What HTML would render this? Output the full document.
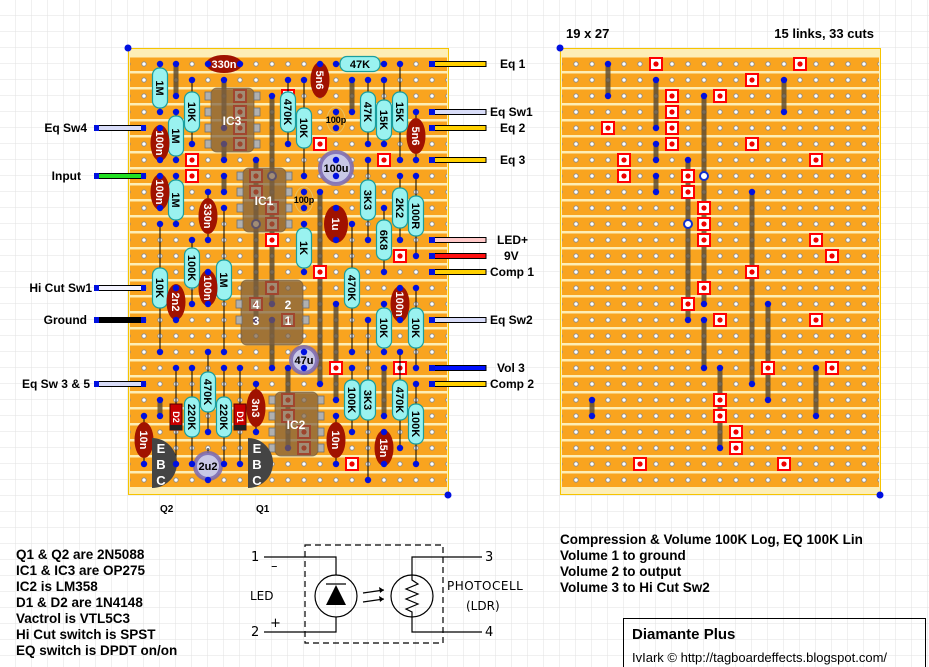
<!DOCTYPE html>
<html><head><meta charset="utf-8"><style>
html,body{margin:0;padding:0;background:#fff;}
svg{display:block;font-family:"Liberation Sans",sans-serif;}
.b{font-weight:bold;}
</style></head><body>
<svg width="929" height="667" viewBox="0 0 929 667" xmlns="http://www.w3.org/2000/svg">
<defs>
<pattern id="grid" width="16" height="16" patternUnits="userSpaceOnUse"><path d="M16 0V16M0 16H16" stroke="#e2e2e2" stroke-width="1" fill="none"/></pattern>
<pattern id="strip" x="0" y="56" width="16" height="16" patternUnits="userSpaceOnUse"><rect x="0" y="1.5" width="16" height="13.5" fill="#f9a41f"/></pattern>
<pattern id="holes" x="136" y="56" width="16" height="16" patternUnits="userSpaceOnUse"><circle cx="8" cy="8" r="2.2" fill="#fff" stroke="#8a8a8a" stroke-width="0.9"/></pattern>
<g id="cut"><rect x="-6" y="-6" width="12" height="12" fill="#fff" stroke="#f00" stroke-width="2"/><circle r="2.6" fill="#e00"/></g>
<g id="ring"><circle r="4" fill="#fff" stroke="#1030d0" stroke-width="2"/></g>
<g id="board">
<rect x="128.5" y="48.5" width="320" height="446" fill="#fdeeb6" stroke="#f6c400"/>
<rect x="130" y="56" width="317" height="432" fill="url(#strip)"/>
<rect x="130" y="56" width="317" height="432" fill="url(#holes)"/>
</g>
<g id="cl">
<g fill="#5a4a32" opacity="0.82">
<rect x="173.5" y="64" width="5" height="32"/>
<rect x="221.5" y="80" width="5" height="48"/>
<rect x="349.5" y="80" width="5" height="32"/>
<rect x="269.5" y="96" width="5" height="208"/>
<rect x="221.5" y="144" width="5" height="16"/>
<rect x="253.5" y="160" width="5" height="160"/>
<rect x="221.5" y="176" width="5" height="16"/>
<rect x="317.5" y="192" width="5" height="192"/>
<rect x="333.5" y="304" width="5" height="96"/>
<rect x="269.5" y="320" width="5" height="48"/>
<rect x="285.5" y="368" width="5" height="80"/>
<rect x="381.5" y="368" width="5" height="48"/>
<rect x="157.5" y="400" width="5" height="16"/>
</g>
<g fill="#0010e0">
<circle cx="176" cy="64" r="3.2"/><circle cx="176" cy="96" r="3.2"/>
<circle cx="224" cy="80" r="3.2"/><circle cx="224" cy="128" r="3.2"/>
<circle cx="352" cy="80" r="3.2"/><circle cx="352" cy="112" r="3.2"/>
<circle cx="272" cy="96" r="3.2"/><circle cx="272" cy="304" r="3.2"/>
<circle cx="224" cy="144" r="3.2"/><circle cx="224" cy="160" r="3.2"/>
<circle cx="256" cy="160" r="3.2"/><circle cx="256" cy="320" r="3.2"/>
<circle cx="224" cy="176" r="3.2"/><circle cx="224" cy="192" r="3.2"/>
<circle cx="320" cy="192" r="3.2"/><circle cx="320" cy="384" r="3.2"/>
<circle cx="336" cy="304" r="3.2"/><circle cx="336" cy="400" r="3.2"/>
<circle cx="272" cy="320" r="3.2"/><circle cx="272" cy="368" r="3.2"/>
<circle cx="288" cy="368" r="3.2"/><circle cx="288" cy="448" r="3.2"/>
<circle cx="384" cy="368" r="3.2"/><circle cx="384" cy="416" r="3.2"/>
<circle cx="160" cy="400" r="3.2"/><circle cx="160" cy="416" r="3.2"/>
</g>
<use href="#ring" x="272" y="176"/><use href="#ring" x="256" y="224"/>
<use href="#cut" x="224" y="64"/><use href="#cut" x="368" y="64"/>
<use href="#cut" x="320" y="80"/>
<use href="#cut" x="240" y="96"/><use href="#cut" x="288" y="96"/>
<use href="#cut" x="240" y="112"/>
<use href="#cut" x="176" y="128"/><use href="#cut" x="240" y="128"/>
<use href="#cut" x="240" y="144"/><use href="#cut" x="320" y="144"/>
<use href="#cut" x="192" y="160"/><use href="#cut" x="384" y="160"/>
<use href="#cut" x="192" y="176"/><use href="#cut" x="256" y="176"/>
<use href="#cut" x="256" y="192"/>
<use href="#cut" x="272" y="208"/>
<use href="#cut" x="272" y="224"/>
<use href="#cut" x="272" y="240"/><use href="#cut" x="384" y="240"/>
<use href="#cut" x="400" y="256"/>
<use href="#cut" x="320" y="272"/>
<use href="#cut" x="272" y="288"/>
<use href="#cut" x="256" y="304"/>
<use href="#cut" x="288" y="320"/><use href="#cut" x="384" y="320"/>
<use href="#cut" x="336" y="368"/><use href="#cut" x="400" y="368"/>
<use href="#cut" x="288" y="400"/>
<use href="#cut" x="288" y="416"/>
<use href="#cut" x="304" y="432"/>
<use href="#cut" x="304" y="448"/>
<use href="#cut" x="208" y="464"/><use href="#cut" x="352" y="464"/>
</g>
</defs>

<rect width="929" height="667" fill="#fff"/>
<rect width="929" height="667" fill="url(#grid)"/>

<use href="#board"/>
<use href="#board" x="432"/>
<use href="#cl"/>
<use href="#cl" x="432"/>
<g fill="#0010e0"><circle cx="128" cy="48" r="3.5"/><circle cx="448" cy="495" r="3.5"/><circle cx="560" cy="48" r="3.5"/><circle cx="880" cy="495" r="3.5"/></g>

<g fill="#7d6040" fill-opacity="0.72" stroke="#6a5030" stroke-opacity="0.6">
<rect x="211" y="88" width="43" height="64" rx="6"/>
<rect x="243" y="168" width="43" height="64" rx="6"/>
<rect x="275" y="392" width="43" height="64" rx="6"/>
<rect x="241" y="280" width="62" height="65" rx="6"/>
</g>
<g fill="#b0b0b0" stroke="#707070" stroke-width="0.8">
<rect x="205" y="92" width="6" height="8"/><rect x="205" y="108" width="6" height="8"/><rect x="205" y="124" width="6" height="8"/><rect x="205" y="140" width="6" height="8"/>
<rect x="254" y="92" width="6" height="8"/><rect x="254" y="108" width="6" height="8"/><rect x="254" y="124" width="6" height="8"/><rect x="254" y="140" width="6" height="8"/>
<rect x="237" y="172" width="6" height="8"/><rect x="237" y="188" width="6" height="8"/><rect x="237" y="204" width="6" height="8"/><rect x="237" y="220" width="6" height="8"/>
<rect x="286" y="172" width="6" height="8"/><rect x="286" y="188" width="6" height="8"/><rect x="286" y="204" width="6" height="8"/><rect x="286" y="220" width="6" height="8"/>
<rect x="269" y="396" width="6" height="8"/><rect x="269" y="412" width="6" height="8"/><rect x="269" y="428" width="6" height="8"/><rect x="269" y="444" width="6" height="8"/>
<rect x="318" y="396" width="6" height="8"/><rect x="318" y="412" width="6" height="8"/><rect x="318" y="428" width="6" height="8"/><rect x="318" y="444" width="6" height="8"/>
<rect x="236" y="300" width="6" height="8"/><rect x="236" y="316" width="6" height="8"/>
<rect x="303" y="300" width="6" height="8"/><rect x="303" y="316" width="6" height="8"/>
</g>
<g class="b" fill="#fff" font-size="12" text-anchor="middle">
<text x="232" y="125">IC3</text><text x="264" y="205">IC1</text><text x="296" y="429">IC2</text>
<text x="256" y="309">4</text><text x="288" y="309">2</text><text x="256" y="325">3</text><text x="288" y="325">1</text>
</g>

<g stroke="#000" stroke-width="1">
<path d="M160 64V112M192 80V144M176 112V160M176 176V224M288 80V144M304 80V176M368 80V144M384 80V144M400 64V160M368 160V240M400 176V240M384 208V272M416 176V256M304 224V272M160 224V352M192 240V304M224 208V352M352 224V352M384 304V352M416 288V368M368 320V480M352 368V432M400 352V448M416 384V464M192 368V464M208 352V432M224 368V464M176 368V464M240 368V464M208 448V480"/>
<path d="M336 64H384M208 64H240"/>
<path d="M160 128V160M160 176V208M208 192V240M320 64V96M416 112V160M336 208V240M176 288V320M208 272V304M400 288V320M336 416V464M384 432V464M256 384V432M144 416V464M336 160V176M304 352V368M336 112V128M304 192V208"/>
</g>

<g fill="#9af2f0" stroke="#1a9e9e" stroke-width="1.2">
<rect x="152.5" y="68" width="15" height="40" rx="7"/>
<rect x="184.5" y="92" width="15" height="40" rx="7"/>
<rect x="168.5" y="116" width="15" height="40" rx="7"/>
<rect x="168.5" y="180" width="15" height="40" rx="7"/>
<rect x="280.5" y="92" width="15" height="40" rx="7"/>
<rect x="296.5" y="108" width="15" height="40" rx="7"/>
<rect x="360.5" y="92" width="15" height="40" rx="7"/>
<rect x="376.5" y="100" width="15" height="40" rx="7"/>
<rect x="392.5" y="92" width="15" height="40" rx="7"/>
<rect x="360.5" y="180" width="15" height="40" rx="7"/>
<rect x="392.5" y="188" width="15" height="40" rx="7"/>
<rect x="376.5" y="220" width="15" height="40" rx="7"/>
<rect x="408.5" y="196" width="15" height="40" rx="7"/>
<rect x="296.5" y="228" width="15" height="40" rx="7"/>
<rect x="152.5" y="268" width="15" height="40" rx="7"/>
<rect x="184.5" y="248" width="15" height="40" rx="7"/>
<rect x="216.5" y="260" width="15" height="40" rx="7"/>
<rect x="344.5" y="268" width="15" height="40" rx="7"/>
<rect x="376.5" y="308" width="15" height="40" rx="7"/>
<rect x="408.5" y="308" width="15" height="40" rx="7"/>
<rect x="360.5" y="380" width="15" height="40" rx="7"/>
<rect x="344.5" y="380" width="15" height="40" rx="7"/>
<rect x="392.5" y="380" width="15" height="40" rx="7"/>
<rect x="408.5" y="404" width="15" height="40" rx="7"/>
<rect x="184.5" y="397" width="15" height="40" rx="7"/>
<rect x="200.5" y="372" width="15" height="40" rx="7"/>
<rect x="216.5" y="397" width="15" height="40" rx="7"/>
<rect x="340" y="56.5" width="40" height="15" rx="7"/>
</g>
<g class="b" fill="#000" font-size="11" text-anchor="middle">
<text transform="translate(156,88) rotate(90)">1M</text>
<text transform="translate(188,112) rotate(90)">10K</text>
<text transform="translate(172,136) rotate(90)">1M</text>
<text transform="translate(172,200) rotate(90)">1M</text>
<text transform="translate(284,112) rotate(90)">470K</text>
<text transform="translate(300,128) rotate(90)">10K</text>
<text transform="translate(364,112) rotate(90)">47K</text>
<text transform="translate(380,120) rotate(90)">15K</text>
<text transform="translate(396,112) rotate(90)">15K</text>
<text transform="translate(364,200) rotate(90)">3K3</text>
<text transform="translate(396,208) rotate(90)">2K2</text>
<text transform="translate(380,240) rotate(90)">6K8</text>
<text transform="translate(412,216) rotate(90)">100R</text>
<text transform="translate(300,248) rotate(90)">1K</text>
<text transform="translate(156,288) rotate(90)">10K</text>
<text transform="translate(188,268) rotate(90)">100K</text>
<text transform="translate(220,280) rotate(90)">1M</text>
<text transform="translate(348,288) rotate(90)">470K</text>
<text transform="translate(380,328) rotate(90)">10K</text>
<text transform="translate(412,328) rotate(90)">10K</text>
<text transform="translate(364,400) rotate(90)">3K3</text>
<text transform="translate(348,400) rotate(90)">100K</text>
<text transform="translate(396,400) rotate(90)">470K</text>
<text transform="translate(412,424) rotate(90)">100K</text>
<text transform="translate(188,417) rotate(90)">220K</text>
<text transform="translate(204,392) rotate(90)">470K</text>
<text transform="translate(220,417) rotate(90)">220K</text>
<text x="360" y="68">47K</text>
</g>

<g fill="#a01200">
<ellipse cx="224" cy="64" rx="18" ry="9"/>
<ellipse cx="160" cy="143" rx="9.5" ry="18"/>
<ellipse cx="160" cy="192" rx="9.5" ry="18"/>
<ellipse cx="208" cy="216" rx="9.5" ry="18"/>
<ellipse cx="320" cy="80" rx="9.5" ry="18"/>
<ellipse cx="416" cy="136" rx="9.5" ry="18"/>
<ellipse cx="336" cy="224" rx="12" ry="19"/>
<ellipse cx="176" cy="302" rx="9.5" ry="18"/>
<ellipse cx="208" cy="288" rx="9.5" ry="18"/>
<ellipse cx="400" cy="304" rx="9.5" ry="18"/>
<ellipse cx="336" cy="440" rx="9.5" ry="18"/>
<ellipse cx="384" cy="448" rx="9.5" ry="18"/>
<ellipse cx="256" cy="408" rx="9.5" ry="19"/>
<ellipse cx="144" cy="440" rx="9.5" ry="18"/>
</g>
<g class="b" fill="#fff" font-size="11" text-anchor="middle">
<text x="224" y="68">330n</text>
<text transform="translate(156,143) rotate(90)">100n</text>
<text transform="translate(156,192) rotate(90)">100n</text>
<text transform="translate(204,216) rotate(90)">330n</text>
<text transform="translate(316,80) rotate(90)">5n6</text>
<text transform="translate(412,136) rotate(90)">5n6</text>
<text transform="translate(332,224) rotate(90)">1u</text>
<text transform="translate(172,302) rotate(90)">2n2</text>
<text transform="translate(204,288) rotate(90)">100n</text>
<text transform="translate(396,304) rotate(90)">100n</text>
<text transform="translate(332,440) rotate(90)">10n</text>
<text transform="translate(380,448) rotate(90)">15n</text>
<text transform="translate(252,408) rotate(90)">3n3</text>
<text transform="translate(140,440) rotate(90)">10n</text>
</g>
<g fill="#f0a020" fill-opacity="0.7" stroke="#e8c060" stroke-width="1">
<ellipse cx="336" cy="120" rx="9" ry="13"/><ellipse cx="304" cy="200" rx="9" ry="13"/>
</g>
<g class="b" fill="#000" font-size="9" text-anchor="middle"><text x="336" y="123">100p</text><text x="304" y="203">100p</text></g>

<g fill="#c9c8e6" stroke="#7a68b0" stroke-width="4" stroke-opacity="0.85">
<circle cx="336" cy="168" r="16"/><circle cx="304" cy="360" r="13"/><circle cx="208" cy="466" r="13"/>
</g>
<g class="b" fill="#000" font-size="11" text-anchor="middle"><text x="336" y="172">100u</text><text x="304" y="364">47u</text><text x="208" y="470">2u2</text></g>

<g stroke="#500" stroke-width="1"><rect x="170" y="404" width="12" height="26" fill="#c80000"/><rect x="234" y="404" width="12" height="26" fill="#c80000"/></g>
<g fill="#222"><rect x="170" y="425" width="12" height="5"/><rect x="234" y="425" width="12" height="5"/></g>
<g class="b" fill="#fff" font-size="9" text-anchor="middle"><text transform="translate(173,417) rotate(90)">D2</text><text transform="translate(237,417) rotate(90)">D1</text></g>

<path d="M152 438A25 25 0 0 1 152 488Z" fill="#444"/>
<path d="M248 438A25 25 0 0 1 248 488Z" fill="#444"/>
<g class="b" fill="#fff" font-size="13" text-anchor="middle">
<text x="161" y="453">E</text><text x="161" y="469">B</text><text x="161" y="485">C</text>
<text x="257" y="453">E</text><text x="257" y="469">B</text><text x="257" y="485">C</text>
</g>

<g fill="#0010e0">
<circle cx="160" cy="64" r="3.2"/><circle cx="160" cy="112" r="3.2"/>
<circle cx="192" cy="80" r="3.2"/><circle cx="192" cy="144" r="3.2"/>
<circle cx="176" cy="112" r="3.2"/><circle cx="176" cy="160" r="3.2"/>
<circle cx="176" cy="176" r="3.2"/><circle cx="176" cy="224" r="3.2"/>
<circle cx="160" cy="128" r="3.2"/><circle cx="160" cy="160" r="3.2"/>
<circle cx="160" cy="176" r="3.2"/><circle cx="160" cy="208" r="3.2"/>
<circle cx="208" cy="64" r="3.2"/><circle cx="240" cy="64" r="3.2"/>
<circle cx="208" cy="192" r="3.2"/><circle cx="208" cy="240" r="3.2"/>
<circle cx="288" cy="80" r="3.2"/><circle cx="288" cy="144" r="3.2"/>
<circle cx="304" cy="80" r="3.2"/><circle cx="304" cy="176" r="3.2"/>
<circle cx="320" cy="64" r="3.2"/><circle cx="336" cy="64" r="3.2"/><circle cx="384" cy="64" r="3.2"/><circle cx="400" cy="64" r="3.2"/>
<circle cx="368" cy="80" r="3.2"/><circle cx="384" cy="80" r="3.2"/>
<circle cx="368" cy="144" r="3.2"/><circle cx="384" cy="144" r="3.2"/><circle cx="400" cy="160" r="3.2"/>
<circle cx="416" cy="112" r="3.2"/><circle cx="416" cy="160" r="3.2"/>
<circle cx="336" cy="112" r="3.2"/><circle cx="336" cy="128" r="3.2"/>
<circle cx="336" cy="160" r="3.2"/><circle cx="336" cy="176" r="3.2"/>
<circle cx="304" cy="192" r="3.2"/><circle cx="304" cy="208" r="3.2"/>
<circle cx="336" cy="208" r="3.2"/><circle cx="336" cy="240" r="3.2"/>
<circle cx="368" cy="160" r="3.2"/><circle cx="368" cy="240" r="3.2"/>
<circle cx="400" cy="176" r="3.2"/><circle cx="400" cy="240" r="3.2"/>
<circle cx="416" cy="176" r="3.2"/><circle cx="416" cy="256" r="3.2"/>
<circle cx="384" cy="208" r="3.2"/><circle cx="384" cy="272" r="3.2"/>
<circle cx="304" cy="224" r="3.2"/><circle cx="304" cy="272" r="3.2"/>
<circle cx="160" cy="224" r="3.2"/><circle cx="160" cy="352" r="3.2"/>
<circle cx="192" cy="240" r="3.2"/><circle cx="192" cy="304" r="3.2"/>
<circle cx="224" cy="208" r="3.2"/><circle cx="224" cy="352" r="3.2"/>
<circle cx="208" cy="272" r="3.2"/><circle cx="208" cy="304" r="3.2"/>
<circle cx="176" cy="288" r="3.2"/><circle cx="176" cy="320" r="3.2"/>
<circle cx="352" cy="224" r="3.2"/><circle cx="352" cy="352" r="3.2"/>
<circle cx="400" cy="288" r="3.2"/><circle cx="400" cy="320" r="3.2"/>
<circle cx="384" cy="304" r="3.2"/><circle cx="384" cy="352" r="3.2"/>
<circle cx="416" cy="288" r="3.2"/><circle cx="416" cy="368" r="3.2"/>
<circle cx="368" cy="320" r="3.2"/><circle cx="368" cy="480" r="3.2"/>
<circle cx="352" cy="368" r="3.2"/><circle cx="352" cy="432" r="3.2"/>
<circle cx="400" cy="352" r="3.2"/><circle cx="400" cy="448" r="3.2"/>
<circle cx="416" cy="384" r="3.2"/><circle cx="416" cy="464" r="3.2"/>
<circle cx="336" cy="416" r="3.2"/><circle cx="336" cy="464" r="3.2"/>
<circle cx="384" cy="432" r="3.2"/><circle cx="384" cy="464" r="3.2"/>
<circle cx="304" cy="352" r="3.2"/><circle cx="304" cy="368" r="3.2"/>
<circle cx="176" cy="368" r="3.2"/><circle cx="176" cy="464" r="3.2"/>
<circle cx="192" cy="368" r="3.2"/><circle cx="192" cy="464" r="3.2"/>
<circle cx="208" cy="352" r="3.2"/><circle cx="208" cy="432" r="3.2"/>
<circle cx="224" cy="368" r="3.2"/><circle cx="224" cy="464" r="3.2"/>
<circle cx="240" cy="368" r="3.2"/><circle cx="240" cy="464" r="3.2"/>
<circle cx="256" cy="384" r="3.2"/><circle cx="256" cy="432" r="3.2"/>
<circle cx="144" cy="416" r="3.2"/><circle cx="144" cy="464" r="3.2"/>
<circle cx="208" cy="480" r="3.2"/>
</g>

<g stroke="#000" stroke-width="1">
<rect x="96" y="125.5" width="48" height="5" fill="#d8dcf8"/>
<rect x="96" y="173.5" width="48" height="5" fill="#22e022"/>
<rect x="96" y="285.5" width="48" height="5" fill="#f4f4ff"/>
<rect x="96" y="317.5" width="48" height="5" fill="#000"/>
<rect x="96" y="381.5" width="48" height="5" fill="#d8dcf8"/>
<rect x="432" y="61.5" width="54" height="5" fill="#ffd000"/>
<rect x="432" y="109.5" width="54" height="5" fill="#d8dcf8"/>
<rect x="432" y="125.5" width="54" height="5" fill="#ffd000"/>
<rect x="432" y="157.5" width="54" height="5" fill="#ffd000"/>
<rect x="432" y="237.5" width="54" height="5" fill="#ffc8c8"/>
<rect x="432" y="253.5" width="54" height="5" fill="#ff1010"/>
<rect x="432" y="269.5" width="54" height="5" fill="#ffd000"/>
<rect x="432" y="317.5" width="54" height="5" fill="#d8dcf8"/>
<rect x="432" y="365.5" width="54" height="5" fill="#0010ff"/>
<rect x="432" y="381.5" width="54" height="5" fill="#ffd000"/>
</g>
<g fill="#0010e0">
<rect x="94" y="125" width="5" height="6"/><rect x="141" y="125" width="5" height="6"/>
<rect x="94" y="173" width="5" height="6"/><rect x="141" y="173" width="5" height="6"/>
<rect x="94" y="285" width="5" height="6"/><rect x="141" y="285" width="5" height="6"/>
<rect x="94" y="317" width="5" height="6"/><rect x="141" y="317" width="5" height="6"/>
<rect x="94" y="381" width="5" height="6"/><rect x="141" y="381" width="5" height="6"/>
<rect x="429" y="61" width="6" height="6"/><rect x="429" y="109" width="6" height="6"/><rect x="429" y="125" width="6" height="6"/><rect x="429" y="157" width="6" height="6"/><rect x="429" y="237" width="6" height="6"/><rect x="429" y="253" width="6" height="6"/><rect x="429" y="269" width="6" height="6"/><rect x="429" y="317" width="6" height="6"/><rect x="429" y="365" width="6" height="6"/><rect x="429" y="381" width="6" height="6"/>
</g>

<g class="b" fill="#000" font-size="12">
<g text-anchor="end">
<text x="87" y="132">Eq Sw4</text><text x="81" y="180">Input</text><text x="92" y="292">Hi Cut Sw1</text><text x="87" y="324">Ground</text><text x="90" y="388">Eq Sw 3 &amp; 5</text>
</g>
<text x="500" y="68">Eq 1</text><text x="490" y="116">Eq Sw1</text><text x="500" y="132">Eq 2</text><text x="500" y="164">Eq 3</text>
<text x="497" y="244">LED+</text><text x="504" y="260">9V</text><text x="490" y="276">Comp 1</text><text x="490" y="324">Eq Sw2</text>
<text x="497" y="372">Vol 3</text><text x="490" y="388">Comp 2</text>
</g>
<g class="b" fill="#000" font-size="13">
<text x="566" y="38">19 x 27</text><text x="874" y="38" text-anchor="end">15 links, 33 cuts</text>
</g>
<g class="b" fill="#000" font-size="10"><text x="160" y="512">Q2</text><text x="256" y="512">Q1</text></g>

<g class="b" fill="#000" font-size="13.5">
<text x="16" y="559">Q1 &amp; Q2 are 2N5088</text>
<text x="16" y="575">IC1 &amp; IC3 are OP275</text>
<text x="16" y="591">IC2 is LM358</text>
<text x="16" y="607">D1 &amp; D2 are 1N4148</text>
<text x="16" y="623">Vactrol is VTL5C3</text>
<text x="16" y="639">Hi Cut switch is SPST</text>
<text x="16" y="655">EQ switch is DPDT on/on</text>
<text x="560" y="544">Compression &amp; Volume 100K Log, EQ 100K Lin</text>
<text x="560" y="560">Volume 1 to ground</text>
<text x="560" y="576">Volume 2 to output</text>
<text x="560" y="592">Volume 3 to Hi Cut Sw2</text>
</g>

<rect x="623.5" y="618.5" width="302" height="52" fill="none" stroke="#000"/>
<text x="632" y="639" class="b" font-size="15" fill="#000">Diamante Plus</text>
<text x="632" y="662" font-size="13" fill="#000">IvIark © http://tagboardeffects.blogspot.com/</text>

<g stroke="#000" stroke-width="1.2" fill="none">
<rect x="305" y="545" width="138" height="98" stroke-dasharray="6,4"/>
<path d="M264 557H336V575M264 632H336V617"/>
<path d="M482 557H412V575M482 632H412V617"/>
<circle cx="336" cy="596" r="21"/>
<circle cx="412" cy="596" r="21"/>
<path d="M326 584H346"/>
<path d="M412 575V580L418 584L406 589L418 594L406 599L418 604L406 609L412 612V617"/>
<path d="M363 593L384 590M363 602L384 599"/>
</g>
<path d="M336 585L326 605H346Z" fill="#000"/>
<path d="M384 590L379 587L380 593ZM384 599L379 596L380 602Z" fill="#000"/>
<g fill="#000" font-size="13" font-family="'DejaVu Sans','Liberation Sans',sans-serif">
<text x="251" y="561">1</text><text x="271" y="570">–</text>
<text x="251" y="636">2</text><text x="270" y="627">+</text>
<text x="485" y="561">3</text><text x="485" y="636">4</text>
<text x="250" y="600" font-size="12">LED</text>
<text x="447" y="590" font-size="12" letter-spacing="0.5">PHOTOCELL</text>
<text x="466" y="610" font-size="12">(LDR)</text>
</g>
</svg>
</body></html>
